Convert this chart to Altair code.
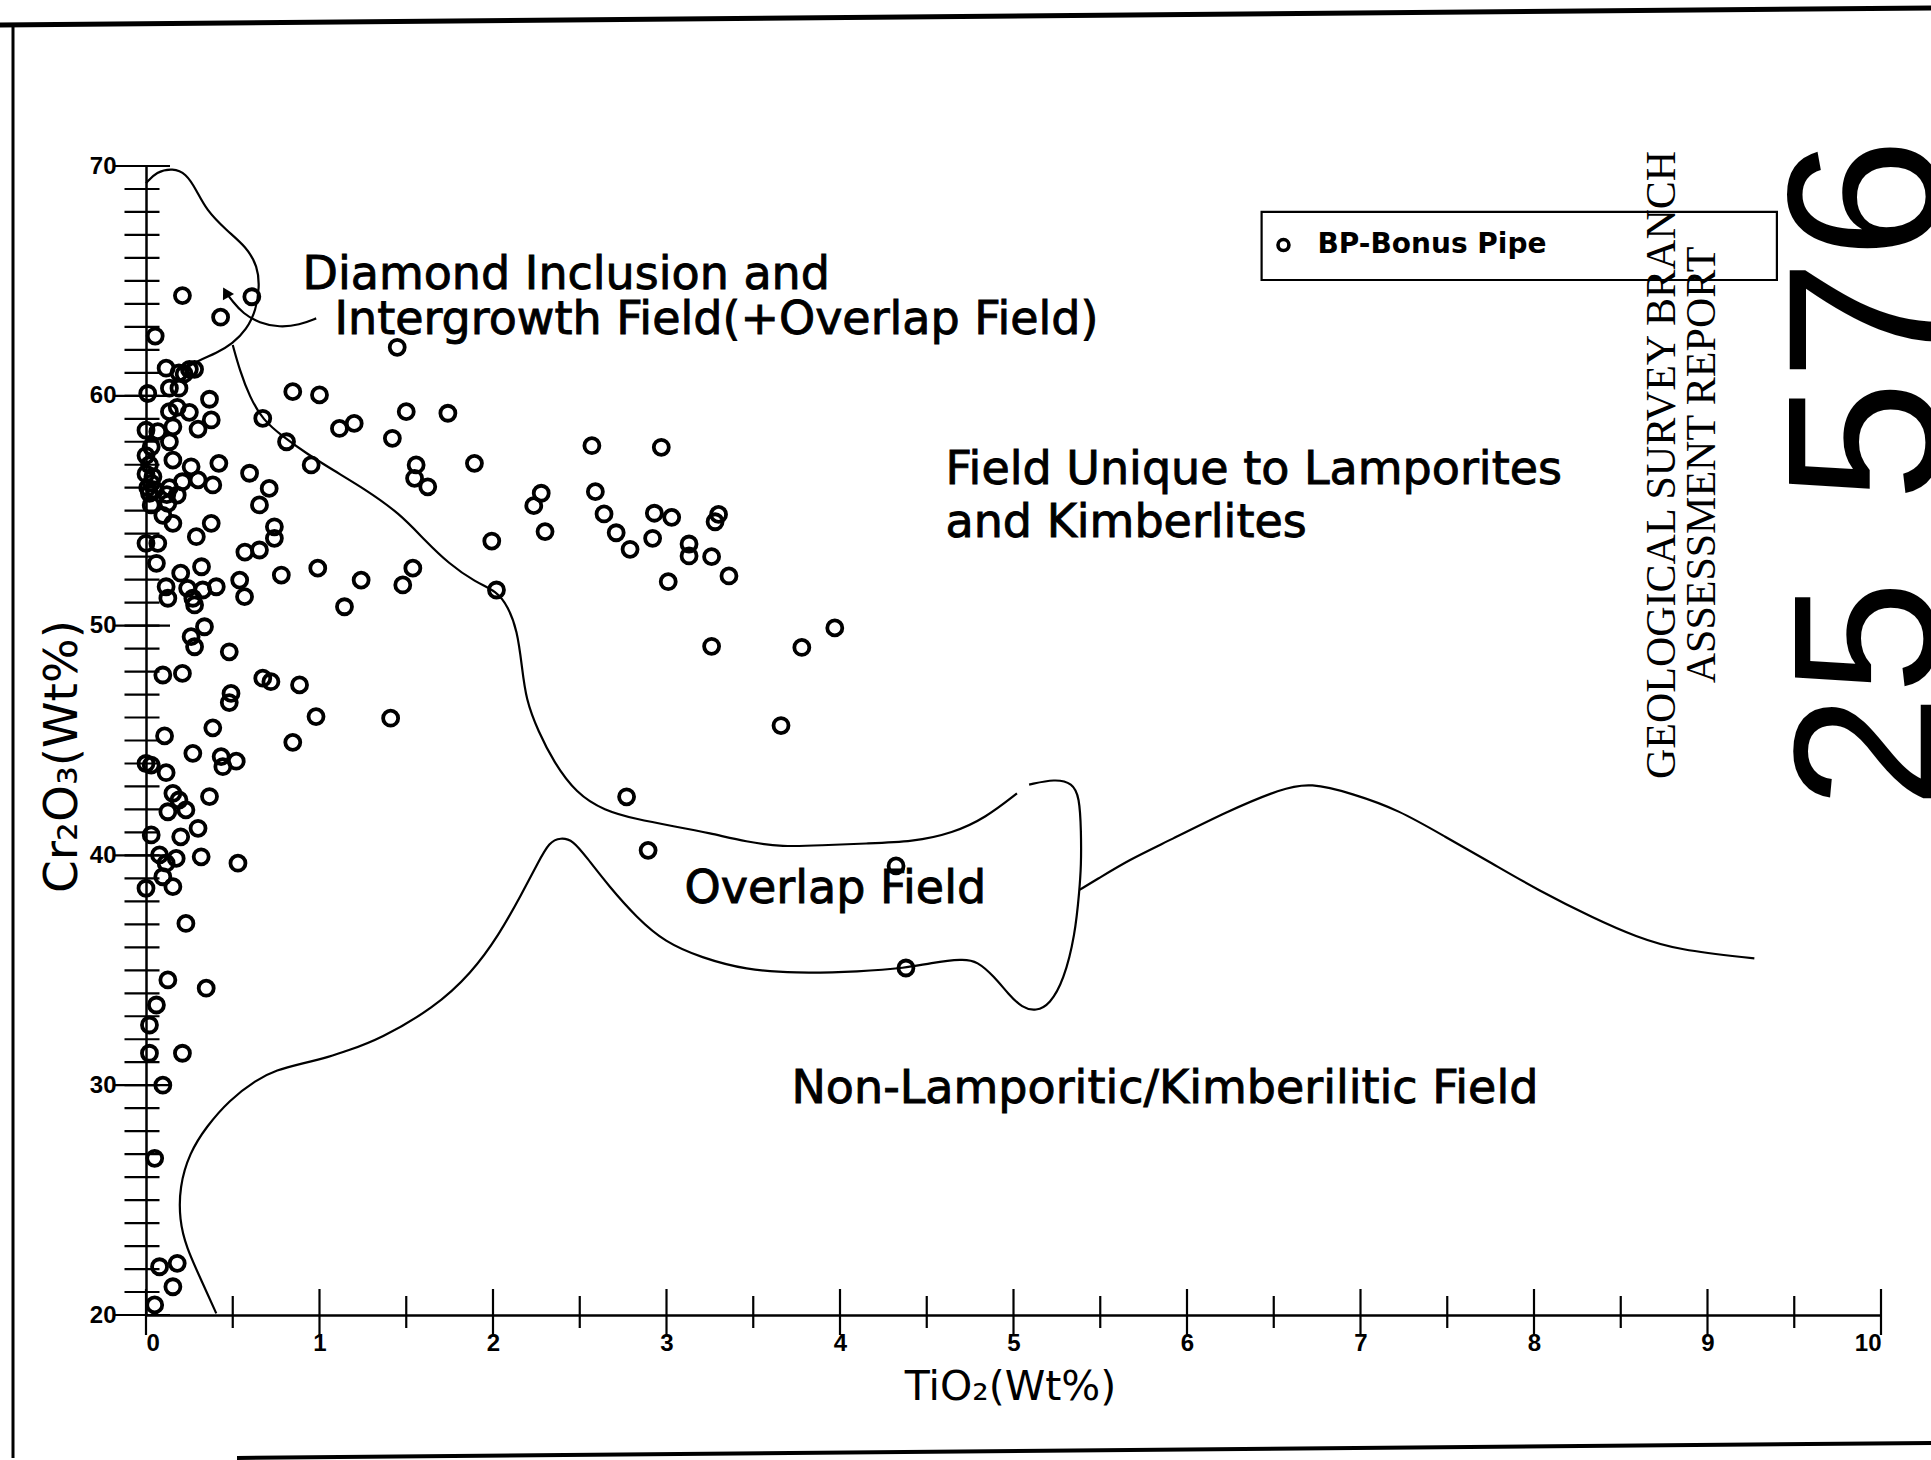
import altair as alt
import pandas as pd

# ---- Bonus Pipe analyses: TiO2 (wt%) vs Cr2O3 (wt%) ----
tio2 = [
    0.21, 0.053, 0.43, 0.61, 1.448,
    0.116, 0.19, 0.22, 0.25, 0.28,
    0.01, 0.135, 0.19, 0.366, 0.846, 1.0,
    0.18, 0.135, 0.25, 0.376, 0.673, 1.50, 1.74,
    0.0, 0.068, 0.155, 0.30, 1.115, 1.20, 0.81, 1.42, 0.135, 0.03, 2.57, 2.97,
    0.155, 0.42, 0.26, 0.952, 1.557, 1.893, 0.597,
    0.0, 0.02, 0.0, 0.04, 0.03, 0.05, 0.01,
    0.21, 0.30, 0.385, 1.548, 1.624, 0.71, 0.135, 0.02, 0.12, 0.18, 2.278, 2.59,
    0.03, 0.126, 0.654, 2.235, 0.097, 0.155, 0.376, 2.64, 2.93, 3.03, 3.30, 3.28, 0.74,
    2.30, 2.71, 0.29, 0.74, 1.993, 2.92, 0.0, 0.068, 3.13, 2.79, 0.57, 0.654, 3.13, 3.26,
    0.06, 1.538, 0.99, 0.20, 0.32, 0.78, 3.36, 0.54, 1.24, 3.01, 1.48, 0.116, 0.24,
    0.327, 0.405, 2.02, 0.568, 0.126, 0.27, 0.28, 1.144,
    0.337, 0.26, 0.28, 0.48, 3.26, 3.78, 3.97, 0.097, 0.21, 0.673, 0.72, 0.885,
    0.49, 0.48, 0.98, 1.41, 3.66, 0.385, 0.107, 0.846, 0.27, 0.433, 0.52, 0.443,
    0.0, 0.03, 0.116,
    2.77, 0.155, 0.19, 0.366, 0.126, 0.23, 0.30, 0.03, 0.2, 2.894, 0.078, 0.174,
    0.116, 0.318, 0.53, 4.323, 0.097, 0.155, 0.0,
    0.23, 4.38, 0.126, 0.347, 0.06, 0.02, 0.02, 0.21, 0.097, 0.05, 0.078, 0.18,
    0.155, 0.05,
]
cr2o3 = [
    64.36, 62.6, 63.42, 64.31, 62.11,
    61.2, 61.0, 60.95, 61.15, 61.15,
    60.1, 60.33, 60.33, 59.85, 60.18, 60.04,
    59.5, 59.31, 59.28, 58.95, 59.02, 59.31, 59.24,
    58.5, 58.44, 58.65, 58.55, 58.58, 58.8, 58.0, 58.15, 58.0, 57.78, 57.83, 57.76,
    57.2, 57.06, 56.91, 56.99, 56.99, 57.06, 56.63,
    57.4, 57.0, 56.6, 56.48, 56.2, 55.9, 56.0,
    56.26, 56.34, 56.12, 56.41, 56.04, 55.97, 56.0, 55.76, 55.7, 55.68, 55.76, 55.83,
    55.25, 55.32, 55.25, 55.22, 54.8, 54.45, 54.45, 54.86, 54.89, 54.71, 54.84, 54.52, 54.3,
    54.09, 54.04, 53.87, 53.8, 53.68, 53.8, 53.58, 53.58, 53.55, 53.32, 53.2, 53.29, 53.03, 53.0,
    52.71, 52.5, 52.5, 52.28, 52.56, 52.2, 52.16, 51.98, 51.98, 51.91, 51.77, 51.69, 51.62,
    51.55, 51.69, 51.55, 51.26, 51.19, 51.19, 50.9, 50.82,
    49.95, 49.52, 49.08, 48.86, 49.1, 49.05, 49.9, 47.85, 47.92, 47.71, 47.56, 47.42,
    47.05, 46.65, 46.04, 45.97, 45.65, 45.55, 45.2, 44.92, 44.44, 44.3, 44.1, 43.86,
    44.0, 43.93, 43.6,
    42.55, 42.7, 42.41, 42.56, 41.9, 41.98, 41.18, 40.89, 40.81, 40.22, 40.02, 39.87,
    39.66, 39.94, 39.66, 39.54, 39.07, 38.64, 38.57,
    37.04, 35.1, 34.58, 34.22, 33.49, 32.62, 31.39, 31.39, 30.0, 26.82, 22.1, 22.25,
    21.23, 20.44,
]

# ---- field boundaries ----
diamond_x = [0.0, 0.06, 0.155, 0.23, 0.29, 0.347, 0.462, 0.578, 0.644, 0.654,
             0.635, 0.578, 0.50, 0.405, 0.308, 0.212]
diamond_y = [69.25, 69.75, 69.9, 69.68, 68.96, 68.09, 67.21, 66.49, 65.62, 64.75,
             63.73, 62.86, 62.28, 61.85, 61.56, 61.12]

lamproite_x = [0.50, 0.54, 0.597, 0.673, 0.79, 0.923, 1.077, 1.27, 1.46, 1.61, 1.743,
               1.90, 2.02, 2.087, 2.14, 2.166, 2.19, 2.26, 2.35, 2.48, 2.64, 2.83,
               3.04, 3.25, 3.46, 3.67, 3.89, 4.15, 4.42, 4.65, 4.84, 5.02]
lamproite_y = [62.21, 61.12, 59.96, 58.95, 58.22, 57.5, 56.77, 55.9, 54.89, 53.69, 52.71,
               51.88, 51.51, 50.83, 49.78, 48.27, 46.77, 45.41, 44.06, 42.7, 41.95, 41.57,
               41.27, 40.97, 40.59, 40.37, 40.44, 40.52, 40.59, 40.97, 41.64, 42.7]

overlap_x = [5.09, 5.24, 5.34, 5.38, 5.39, 5.39, 5.38, 5.355, 5.29, 5.21, 5.13, 5.05,
             4.97, 4.89, 4.79, 4.71, 4.52, 4.38, 4.12, 3.73, 3.46, 3.20, 2.99, 2.83,
             2.67, 2.54, 2.46, 2.39, 2.325, 2.26, 2.166, 2.034, 1.875, 1.66, 1.346,
             1.16, 1.058, 0.904, 0.75, 0.635, 0.48, 0.347, 0.25, 0.193, 0.193, 0.23,
             0.327, 0.405]
overlap_y = [43.08, 43.33, 43.15, 42.55, 41.04, 39.54, 38.49, 36.53, 34.57, 33.52, 33.22,
             33.36, 33.97, 34.72, 35.4, 35.5, 35.32, 35.1, 34.94, 34.87, 35.02, 35.55,
             36.23, 37.28, 38.64, 39.91, 40.67, 40.77, 40.59, 39.69, 38.33, 36.53, 34.87,
             33.36, 32.0, 31.5, 31.24, 30.95, 30.66, 30.23, 29.35, 28.19, 27.04, 25.58,
             24.13, 22.97, 21.38, 20.07]

nonlamp_x = [5.38, 5.476, 5.663, 5.905, 6.227, 6.549, 6.71, 6.951, 7.22, 7.488, 7.757,
             8.02, 8.347, 8.588, 8.83, 9.27]
nonlamp_y = [38.5, 38.93, 39.8, 40.67, 41.9, 42.92, 43.16, 42.7, 41.98, 40.81, 39.66,
             38.5, 37.26, 36.46, 35.88, 35.52]

arrow_x = [0.981, 0.885, 0.769, 0.654, 0.558, 0.50, 0.46]
arrow_y = [63.37, 63.08, 62.98, 63.16, 63.59, 64.1, 64.5]

# ---- axis tick positions ----
y_minor = list(range(20, 71))
y_major = [20, 30, 40, 50, 60, 70]
x_minor = [0.5, 1.5, 2.5, 3.5, 4.5, 5.5, 6.5, 7.5, 8.5, 9.5]
x_major = [0, 1, 2, 3, 4, 5, 6, 7, 8, 9, 10]

# ---- text placed on the diagram ----
field_labels = ["Diamond Inclusion and", "Intergrowth Field(+Overlap Field)",
                "Field Unique to Lamporites", "and Kimberlites",
                "Overlap Field", "Non-Lamporitic/Kimberilitic Field"]
field_label_x = [0.902, 1.086, 4.608, 4.608, 3.104, 3.72]
field_label_y = [65.25, 63.3, 56.77, 54.46, 38.54, 29.83]

legend_label = "BP-Bonus Pipe"
stamp_lines = ["GEOLOGICAL SURVEY BRANCH", "ASSESSMENT REPORT"]
stamp_x = [8.738, 8.971]
stamp_y = [56.99, 56.99]
stamp_number = ["25", "576"]
stamp_number_x = [9.96, 9.96]
stamp_number_y = [47.0, 63.3]
stamp_number_size = [205, 218]

W, H = 1735, 1149
PAD_L, PAD_T = 146, 166

xs = alt.Scale(domain=[0, 10], nice=False, zero=False)
ys = alt.Scale(domain=[20, 70], nice=False, zero=False)

X_AX = alt.Axis(values=x_major, format="d", ticks=False, tickSize=0, grid=False,
                domain=True, domainColor="black", domainWidth=2.5,
                labelFont="Liberation Sans", labelFontSize=24, labelFontWeight="bold",
                labelColor="black", labelPadding=16,
                title="TiO₂(Wt%)", titleFont="DejaVu Sans", titleFontSize=41,
                titleFontWeight="normal", titleColor="black",
                titleX=864, titleY=72, titleAlign="center", titleBaseline="middle")
Y_AX = alt.Axis(values=y_major, format="d", ticks=False, tickSize=0, grid=False,
                domain=True, domainColor="black", domainWidth=2.5,
                labelFont="Liberation Sans", labelFontSize=24, labelFontWeight="bold",
                labelColor="black", labelPadding=30,
                title="Cr₂O₃(Wt%)", titleFont="DejaVu Sans", titleFontSize=47,
                titleFontWeight="normal", titleColor="black",
                titleX=-84, titleY=590, titleAngle=270, titleAlign="center",
                titleBaseline="middle")


def ex(field):
    return alt.X(field, scale=xs, axis=X_AX)


def ey(field):
    return alt.Y(field, scale=ys, axis=Y_AX)


pts = pd.DataFrame({"TiO2": tio2, "Cr2O3": cr2o3})

points = alt.Chart(pts).mark_point(
    shape="circle", filled=False, size=225, strokeWidth=3.8, color="black", opacity=1
).encode(x=ex("TiO2:Q"), y=ey("Cr2O3:Q"))


def boundary(name, bx, by):
    return pd.DataFrame({"field": name, "i": list(range(len(bx))), "x": bx, "y": by})


lines_df = pd.concat([
    boundary("diamond", diamond_x, diamond_y),
    boundary("lamproite", lamproite_x, lamproite_y),
    boundary("overlap", overlap_x, overlap_y),
    boundary("nonlamp", nonlamp_x, nonlamp_y),
    boundary("arrow", arrow_x, arrow_y),
])

curves = alt.Chart(lines_df).mark_line(
    color="black", strokeWidth=2.2, interpolate="basis"
).encode(x=ex("x:Q"), y=ey("y:Q"), detail="field:N", order="i:Q")

arrowhead = alt.Chart(pd.DataFrame({"x": [arrow_x[-1]], "y": [arrow_y[-1]]})).mark_point(
    shape="triangle-up", filled=True, color="black", opacity=1, size=160, angle=331
).encode(x=ex("x:Q"), y=ey("y:Q"))

# ticks drawn across both axis lines
yt_minor = alt.Chart(pd.DataFrame({"x": 0, "y": y_minor})).mark_tick(
    orient="horizontal", size=35, thickness=2.2, color="black", opacity=1, xOffset=-4
).encode(x=ex("x:Q"), y=ey("y:Q"))
yt_major = alt.Chart(pd.DataFrame({"x": 0, "y": y_major})).mark_tick(
    orient="horizontal", size=56, thickness=2.2, color="black", opacity=1, xOffset=-4
).encode(x=ex("x:Q"), y=ey("y:Q"))
xt_minor = alt.Chart(pd.DataFrame({"x": x_minor, "y": 20})).mark_tick(
    orient="vertical", size=32, thickness=2.2, color="black", opacity=1, yOffset=-3
).encode(x=ex("x:Q"), y=ey("y:Q"))
xt_major = alt.Chart(pd.DataFrame({"x": x_major, "y": 20})).mark_tick(
    orient="vertical", size=46, thickness=2.2, color="black", opacity=1, yOffset=-3
).encode(x=ex("x:Q"), y=ey("y:Q"))

labels_df = pd.DataFrame({"t": field_labels, "x": field_label_x, "y": field_label_y})
field_text = alt.Chart(labels_df).mark_text(
    font="DejaVu Sans", fontSize=46, align="left", baseline="middle", color="black",
    stroke="black", strokeWidth=0.9
).encode(x=ex("x:Q"), y=ey("y:Q"), text="t:N")

# legend box
legend_box = alt.Chart(pd.DataFrame({"x": [6.43], "x2": [9.40], "y": [68.0], "y2": [65.04]})).mark_rect(
    fill="white", stroke="black", strokeWidth=2.2
).encode(x=ex("x:Q"), x2="x2:Q", y=ey("y:Q"), y2="y2:Q")
legend_sym = alt.Chart(pd.DataFrame({"x": [6.556], "y": [66.56]})).mark_point(
    shape="circle", filled=False, size=120, strokeWidth=3.6, color="black", opacity=1
).encode(x=ex("x:Q"), y=ey("y:Q"))
legend_txt = alt.Chart(pd.DataFrame({"t": [legend_label], "x": [6.752], "y": [66.56]})).mark_text(
    font="DejaVu Sans", fontWeight="bold", fontSize=28, align="left", baseline="middle", color="black"
).encode(x=ex("x:Q"), y=ey("y:Q"), text="t:N")

# report stamp, printed over the legend
stamp_txt = alt.Chart(pd.DataFrame({"t": stamp_lines, "x": stamp_x, "y": stamp_y})).mark_text(
    font="Liberation Serif", fontSize=42, angle=270, align="center", baseline="middle", color="black"
).encode(x=ex("x:Q"), y=ey("y:Q"), text="t:N")
stamp_num = alt.Chart(pd.DataFrame({"t": stamp_number, "x": stamp_number_x,
                                    "y": stamp_number_y, "s": stamp_number_size})).mark_text(
    font="Liberation Sans", angle=270, align="center", baseline="middle", color="black"
).encode(x=ex("x:Q"), y=ey("y:Q"), text="t:N",
         size=alt.Size("s:Q", scale=None, legend=None))

# page frame
one = pd.DataFrame({"k": [0]})
frame_left = alt.Chart(one).mark_rule(color="black", strokeWidth=3).encode(
    x=alt.value(-133), y=alt.value(-141), y2=alt.value(1292))
frame_top = alt.Chart(one).mark_rule(color="black", strokeWidth=5).encode(
    x=alt.value(-146), y=alt.value(-141), x2=alt.value(1785), y2=alt.value(-158))
frame_bottom = alt.Chart(one).mark_rule(color="black", strokeWidth=4).encode(
    x=alt.value(91), y=alt.value(1292), x2=alt.value(1785), y2=alt.value(1277))

chart = alt.layer(
    points,
    frame_left, frame_top, frame_bottom,
    curves, arrowhead,
    yt_minor, yt_major, xt_minor, xt_major,
    field_text,
    legend_box, legend_sym, legend_txt,
    stamp_txt, stamp_num,
).properties(
    width=W, height=H,
    autosize=alt.AutoSizeParams(type="none"),
    padding={"left": PAD_L, "top": PAD_T, "right": 50, "bottom": 145},
    background="white",
).configure_view(stroke=None)

chart.save("out.html", embed_options={"renderer": "svg", "actions": False})
